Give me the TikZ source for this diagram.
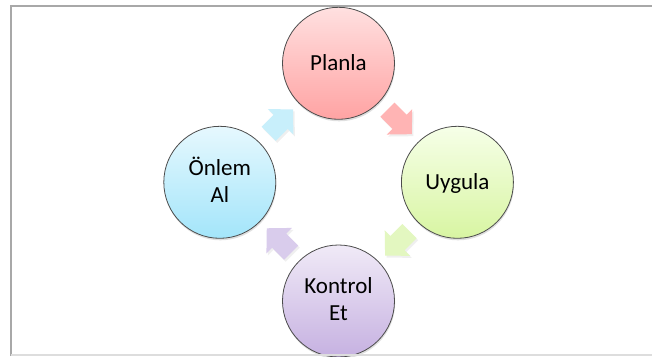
\documentclass[tikz,border=0pt]{standalone}
\usepackage{fontspec}
\setmainfont{Carlito}
\usetikzlibrary{shadows,calc}
\definecolor{pinkT}{HTML}{FFE0E0}
\definecolor{pinkB}{HTML}{FFA3A3}
\definecolor{greenT}{HTML}{F6FFE8}
\definecolor{greenB}{HTML}{D8F5A2}
\definecolor{blueT}{HTML}{E6F8FE}
\definecolor{blueB}{HTML}{A3E5FA}
\definecolor{purpT}{HTML}{F0EAF7}
\definecolor{purpB}{HTML}{C6B1E1}
\definecolor{apink}{HTML}{FFB4B4}
\definecolor{agreen}{HTML}{E3F7C0}
\definecolor{apurp}{HTML}{D9CCEC}
\definecolor{ablue}{HTML}{C8EFFB}
\definecolor{framegray}{HTML}{A8A8A8}
\definecolor{framelight}{HTML}{DDDDDD}
\begin{document}
\begin{tikzpicture}[x=1pt,y=-1pt,
  cyc/.style={circle, minimum size=112pt, inner sep=0pt, draw=black!70, line width=0.8pt,
    drop shadow={opacity=0.25, shadow xshift=0.6pt, shadow yshift=-2pt}},
  lbl/.style={font=\fontsize{23}{27}\selectfont, anchor=base, inner sep=0pt},
  blockarrow/.style={drop shadow={opacity=0.12, shadow xshift=1.5pt, shadow yshift=-2pt}},
]
\useasboundingbox (0,0) rectangle (652,356);
\fill[white] (0,0) rectangle (652,356);
\draw[framegray, line width=2pt] (11.2,356) -- (11.2,6.2) -- (652,6.2);

% circles
\node[cyc, top color=pinkT, bottom color=pinkB] (p) at (338.5,63.3) {};
\node[cyc, top color=greenT, bottom color=greenB] (u) at (457.4,182.3) {};
\node[cyc, top color=purpT, bottom color=purpB] (k) at (338.5,301) {};
\node[cyc, top color=blueT, bottom color=blueB] (o) at (219.8,182.3) {};

% labels
\node[lbl] (tp) at ($(p)+(0,7.4)$) {Planla};
\node[lbl] (tu) at ($(u)+(0,6.8)$) {Uygula};
\node[lbl] (tk) at ($(k)+(0,-8)$) {\begin{tabular}[t]{@{}c@{}}Kontrol\\Et\end{tabular}};
\node[lbl] (to) at ($(o)+(0,-7.3)$) {\begin{tabular}[t]{@{}c@{}}Önlem\\Al\end{tabular}};

% block arrows between circles
\begin{scope}[shift={($(p)!0.5!(u)+(1.5,-1)$)}, rotate=-45]
  \fill[blockarrow, apink]
    (-17,-10) -- (0,-10) -- (0,-18) -- (17.5,0) -- (0,18) -- (0,10) -- (-17,10) -- cycle;
\end{scope}
\begin{scope}[shift={($(u)!0.5!(k)+(-0.5,1.5)$)}, rotate=-135]
  \fill[blockarrow, agreen]
    (-17,-10) -- (0,-10) -- (0,-18) -- (17.5,0) -- (0,18) -- (0,10) -- (-17,10) -- cycle;
\end{scope}
\begin{scope}[shift={($(k)!0.5!(o)+(0,-1)$)}, rotate=135]
  \fill[blockarrow, apurp]
    (-17,-10) -- (0,-10) -- (0,-18) -- (17.5,0) -- (0,18) -- (0,10) -- (-17,10) -- cycle;
\end{scope}
\begin{scope}[shift={($(o)!0.5!(p)+(1.5,-1)$)}, rotate=45]
  \fill[blockarrow, ablue]
    (-17,-10) -- (0,-10) -- (0,-18) -- (17.5,0) -- (0,18) -- (0,10) -- (-17,10) -- cycle;
\end{scope}

\draw[framelight, line width=1.5pt] (11.2,355.2) -- (652,355.2);
\end{tikzpicture}
\end{document}
